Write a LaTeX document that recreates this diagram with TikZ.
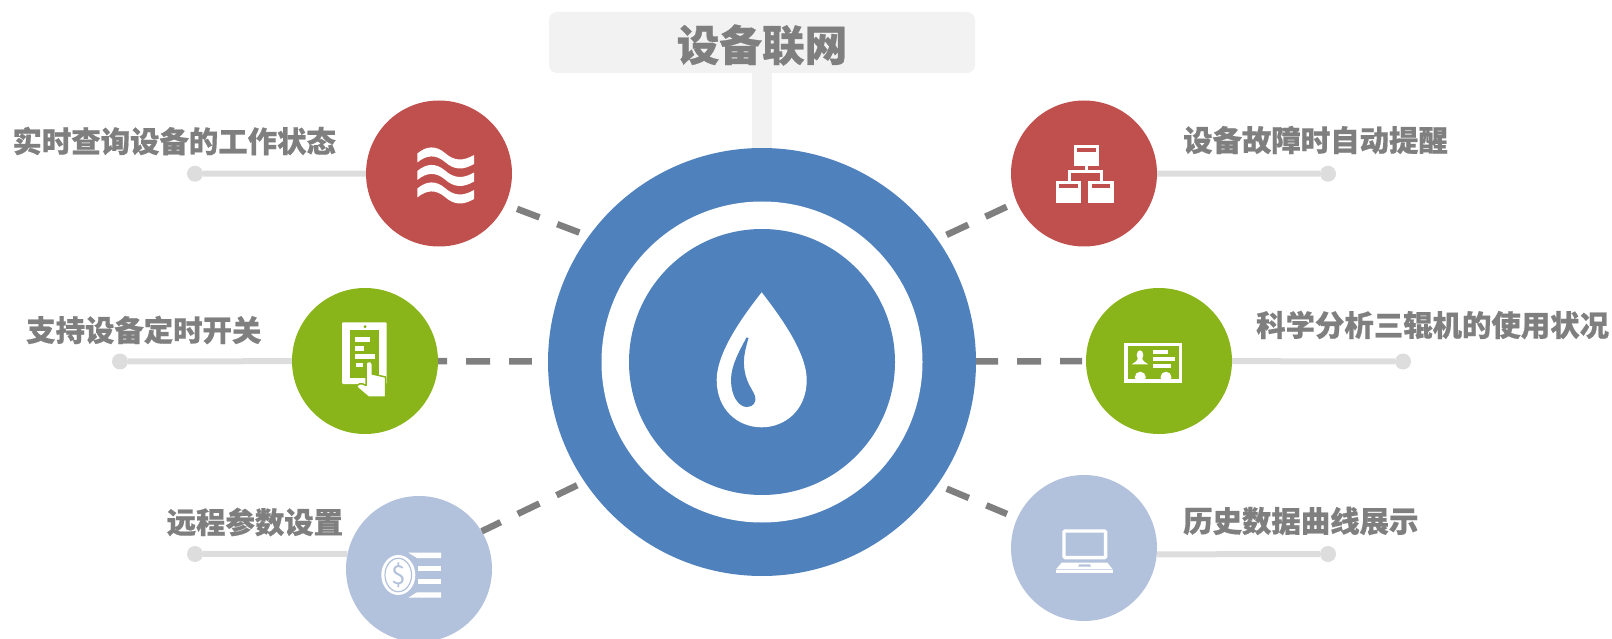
\documentclass[tikz,border=0pt]{standalone}
\usepackage{fontspec}
\setmainfont{Noto Sans CJK SC}[BoldFeatures={FakeBold=0.6}]
\usepackage{xcolor}
\usetikzlibrary{positioning}
\definecolor{hubblue}{RGB}{79,129,189}
\definecolor{redc}{RGB}{192,80,77}
\definecolor{greenc}{RGB}{138,181,26}
\definecolor{paleblue}{RGB}{179,194,220}
\definecolor{titlegray}{RGB}{242,242,242}
\definecolor{textgray}{RGB}{127,127,127}
\definecolor{sidegray}{RGB}{221,221,221}

\begin{document}
\begin{tikzpicture}[
    x=1pt, y=-1pt,
    disc/.style={circle, minimum size=146pt, inner sep=0pt},
    sidedot/.style={circle, fill=sidegray, minimum size=16pt, inner sep=0pt},
    sideline/.style={draw=sidegray, line width=6pt},
    dashlink/.style={draw=textgray, line width=6.5pt, dash pattern=on 24pt off 19pt},
    label/.style={anchor=west, inner sep=0pt, text=textgray, font=\fontsize{29.4pt}{32pt}\selectfont\bfseries},
    icon/.style={fill=white, draw=none}
]
\useasboundingbox (0,0) rectangle (1612,639);

\node[rectangle, rounded corners=8pt, fill=titlegray, minimum width=426pt, minimum height=61pt, inner sep=0pt] (title) at (762,42.5) {};
\node[circle, fill=hubblue, minimum size=428pt, inner sep=0pt] (hub) at (762,362) {};
\node[circle, fill=white, minimum size=321pt, inner sep=0pt] (hubring) at (hub) {};
\node[circle, fill=hubblue, minimum size=266pt, inner sep=0pt] (hubcore) at (hub) {};
\node[text=textgray, inner sep=0pt, font=\fontsize{42.6pt}{46pt}\selectfont\bfseries] (titletext) at (762,45) {设备联网};

\node[disc, fill=redc] (query) at (439,173.5) {};
\node[disc, fill=greenc] (timer) at (365,361) {};
\node[disc, fill=paleblue] (param) at (419,569) {};
\node[disc, fill=redc] (alarm) at (1084,173.5) {};
\node[disc, fill=greenc] (usage) at (1159,361) {};
\node[disc, fill=paleblue] (history) at (1084,548) {};

\node[sidedot] (querydot) at (195,173.7) {};
\node[sidedot] (timerdot) at (120,361.5) {};
\node[sidedot] (paramdot) at (195,554) {};
\node[sidedot] (alarmdot) at (1328,173.7) {};
\node[sidedot] (usagedot) at (1403,361.5) {};
\node[sidedot] (historydot) at (1328,554) {};

\node[label] (querytext) at (12.3,141) {实时查询设备的工作状态};
\node[label] (timertext) at (26,330) {支持设备定时开关};
\node[label] (paramtext) at (166.5,522) {远程参数设置};
\node[label] (alarmtext) at (1183,140) {设备故障时自动提醒};
\node[label] (usagetext) at (1256,325) {科学分析三辊机的使用状况};
\node[label] (historytext) at (1183,521) {历史数据曲线展示};

\draw[draw=titlegray, line width=20pt] (title) -- (hub);

\draw[sideline] (querydot) -- (query);
\draw[sideline] (timerdot) -- (timer);
\draw[sideline] (paramdot) -- (param.168);
\draw[sideline] (alarmdot) -- (alarm);
\draw[sideline] (usagedot) -- (usage);
\draw[sideline] (historydot) -- (history.355);

\draw[dashlink, shorten <=12.5pt, shorten >=10pt] (query.335.6) -- (hub.144.5);
\draw[dashlink, dash phase=15pt, shorten >=16pt] (timer) -- (hub);
\draw[dashlink, dash phase=3pt, shorten >=8pt] (param.31.8) -- (hub.214.8);
\draw[dashlink, shorten <=10pt, shorten >=11pt] (hub.35.3) -- (alarm.203.8);
\draw[dashlink, dash pattern=on 22pt off 19pt on 24pt off 19pt, shorten >=3pt] (hub) -- (usage);
\draw[dashlink, shorten <=10pt, shorten >=11pt] (hub.325) -- (history.156.9);

\fill[icon] (761.7,292.3) .. controls (775,310) and (806.7,350) .. (806.7,380) .. controls (806.7,410) and (785,427.3) .. (761.7,427.3) .. controls (738,427.3) and (716.7,410) .. (716.7,380) .. controls (716.7,350) and (748,310) .. cycle;
\fill[hubblue] (746.5,337.5) .. controls (740,350) and (731,365) .. (731,380) .. controls (731,395) and (738,407) .. (747,407) .. controls (753,407) and (757,402) .. (755,396) .. controls (752,388) and (745,382) .. (744,365) .. controls (743.5,355) and (746,347) .. (748.5,338) -- cycle;

\foreach \dy in {0,17.5,35} {
    \fill[icon] (417.3,153.5+\dy) .. controls (427,145.5+\dy) and (436,145.5+\dy) .. (445,153+\dy) .. controls (454,161+\dy) and (463,161.5+\dy) .. (474,155+\dy) -- (474,164+\dy) .. controls (463,170.5+\dy) and (454,170+\dy) .. (445,162+\dy) .. controls (436,154.5+\dy) and (427,154.5+\dy) .. (417.3,162.5+\dy) -- cycle;
}

\fill[icon, rounded corners=1pt] (342,322.3) rectangle (386.7,384);
\fill[greenc] (350,330) rectangle (379,378);
\fill[greenc] (365,326.7) circle (1.7pt);
\fill[icon] (355,337) rectangle (370,341.7);
\fill[icon] (355,346) rectangle (364,350.7);
\fill[icon] (355,354) rectangle (375,358.7);
\fill[icon] (355.7,362.7) rectangle (363.3,367.3);
\filldraw[fill=white, draw=greenc, line width=1.5pt, line join=round] (366,364) .. controls (366,360.5) and (372.3,360.5) .. (372.3,364) -- (372.3,374) -- (385.5,377) -- (385.5,397) -- (368.3,397) -- (356.5,387) .. controls (357.5,384) and (361,382) .. (366,385.5) -- cycle;

\fill[icon] (408.3,552.7) -- (441,552.7) -- (441,558) -- (417,558) -- cycle;
\fill[icon] (418.3,566) rectangle (441,571);
\fill[icon] (418.3,579.3) rectangle (441,584.3);
\fill[icon] (417,592.3) -- (441,592.3) -- (441,597.7) -- (408.3,597.7) -- cycle;
\fill[icon] (398.3,575) ellipse [x radius=17pt, y radius=20pt];
\draw[paleblue, line width=1.2pt] (398.3,575) ellipse [x radius=13.3pt, y radius=16.7pt];
\node[text=paleblue, inner sep=0pt, font=\fontsize{26pt}{28pt}\selectfont] (dollar) at (398.3,575) {\$};

\fill[icon] (1073.7,144.7) rectangle (1099,166);
\fill[redc] (1077.3,148.3) rectangle (1095.7,152.3);
\draw[white, line width=3pt] (1086,166) -- (1086,172);
\draw[white, line width=3pt] (1069,181) -- (1069,172) -- (1101,172) -- (1101,181);
\fill[icon] (1055.7,181) rectangle (1081,202.7);
\fill[redc] (1059.3,184.3) rectangle (1077.7,188.3);
\fill[icon] (1088.3,181) rectangle (1113.7,202.7);
\fill[redc] (1092,184.3) rectangle (1110.3,188.3);

\draw[white, line width=3.2pt] (1126,344.3) rectangle (1180.4,381);
\fill[icon] (1153,350) rectangle (1168,354);
\fill[icon] (1153,357) rectangle (1175,361);
\fill[icon] (1153,364) rectangle (1171,368);
\fill[icon] (1140,355) ellipse [x radius=3.3pt, y radius=4.7pt];
\fill[icon] (1131.7,364.3) .. controls (1135,362) and (1138,361) .. (1138,357) -- (1142,357) .. controls (1142,361) and (1145,362) .. (1148.3,364.3) -- cycle;
\fill[icon] (1140.3,377.2) circle (5.5pt);
\fill[icon] (1166,377.2) circle (5.5pt);

\draw[white, line width=3.3pt, rounded corners=1pt] (1064,531) rectangle (1105.6,557.6);
\fill[icon] (1061.7,562.7) -- (1107.3,562.7) -- (1112.7,569.3) -- (1056,569.3) -- cycle;
\fill[paleblue] (1079.3,564.3) -- (1090,564.3) -- (1091,566.7) -- (1078,566.7) -- cycle;
\fill[icon] (1056,570.3) rectangle (1112.7,572.7);

\end{tikzpicture}
\end{document}
